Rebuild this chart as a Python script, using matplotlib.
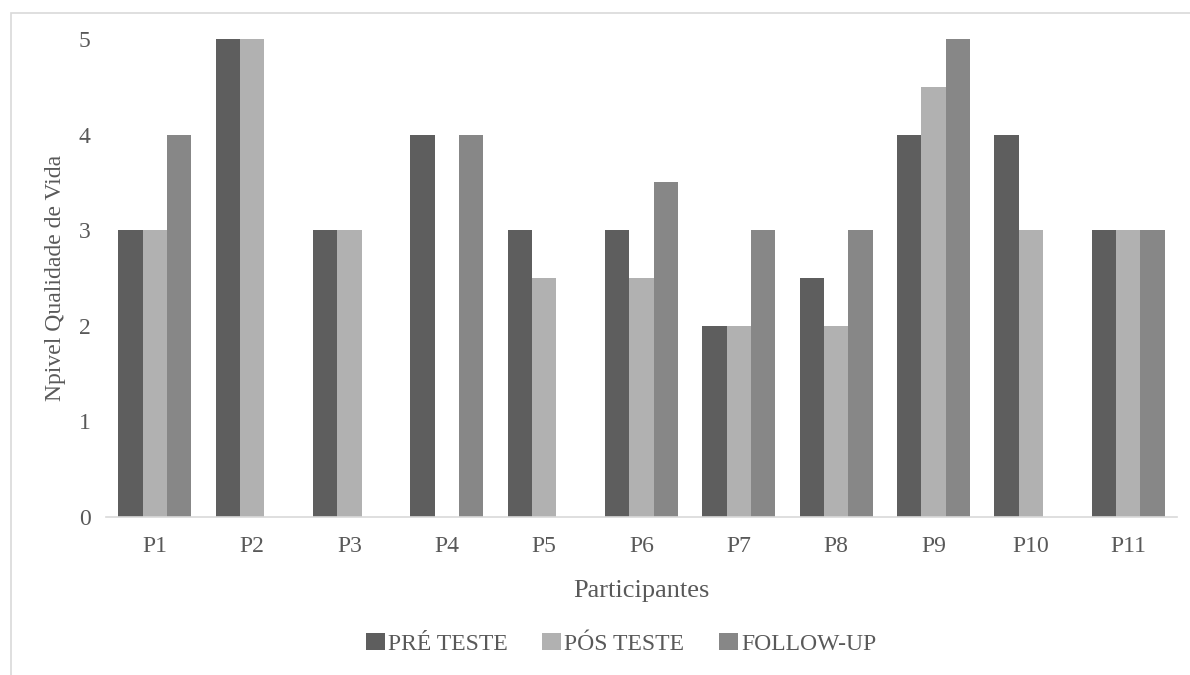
import matplotlib
matplotlib.use("Agg")
import matplotlib.pyplot as plt
from matplotlib.patches import Rectangle
import numpy as np

participants = ["P1", "P2", "P3", "P4", "P5", "P6", "P7", "P8", "P9", "P10", "P11"]
pre_teste = [3, 5, 3, 4, 3, 3, 2, 2.5, 4, 4, 3]
pos_teste = [3, 5, 3, 0, 2.5, 2.5, 2, 2, 4.5, 3, 3]
follow_up = [4, 0, 0, 4, 0, 3.5, 3, 3, 5, 0, 3]
series_names = ["PRÉ TESTE", "PÓS TESTE", "FOLLOW-UP"]
y_ticks = [0, 1, 2, 3, 4, 5]

colors = ["#5e5e5e", "#b1b1b1", "#878787"]
text_color = "#595959"

plt.rcParams['font.family'] = ['Liberation Serif', 'DejaVu Serif']

W, H = 1190, 675
fig = plt.figure(figsize=(W / 100, H / 100), dpi=100)

ax_left, ax_right = 106, 1177
ax_top, ax_bottom = 39, 517
ax = fig.add_axes([ax_left / W, 1 - ax_bottom / H, (ax_right - ax_left) / W, (ax_bottom - ax_top) / H])

x = np.arange(len(participants))
bw = 0.25
for i, (vals, name) in enumerate(zip([pre_teste, pos_teste, follow_up], series_names)):
    ax.bar(x + (i - 1) * bw, vals, width=bw, color=colors[i], label=name, zorder=2)

ax.set_xlim(-0.5, len(participants) - 0.5)
ax.set_ylim(0, 5)
ax.set_yticks(y_ticks)
ax.set_xticks(x)
ax.set_xticklabels(participants)
for s in ["top", "right", "left"]:
    ax.spines[s].set_visible(False)
ax.spines["bottom"].set_color("#d9d9d9")
ax.spines["bottom"].set_linewidth(1.2)
ax.tick_params(axis="both", length=0, colors=text_color, labelsize=17)
ax.tick_params(axis="y", pad=11)
ax.tick_params(axis="x", pad=13.5)

ax.set_xlabel("Participantes", fontsize=19, color=text_color, labelpad=17)
ax.set_ylabel("Npivel Qualidade de Vida", fontsize=17, color=text_color, labelpad=9)

leg = fig.legend(loc="center", bbox_to_anchor=(621 / W, 1 - 644 / H), ncol=3, frameon=False,
                 fontsize=17, handlelength=0.8, handleheight=0.72, handletextpad=0.15,
                 columnspacing=1.45, labelcolor=text_color)

# outer chart border
fig.patches.append(Rectangle((11 / W, -0.1), 1.2, 1 - 12.5 / H + 0.1, transform=fig.transFigure,
                             fill=False, edgecolor="#d9d9d9", linewidth=1.2))

fig.savefig("out.png", dpi=100, facecolor="white")
